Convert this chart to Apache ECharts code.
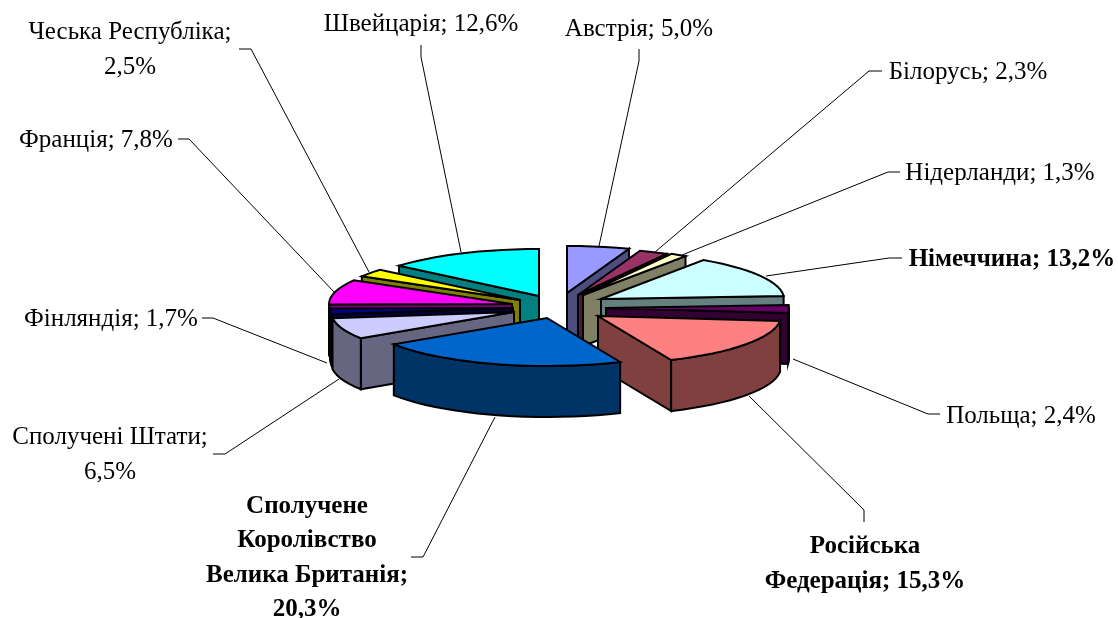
<!DOCTYPE html>
<html><head><meta charset="utf-8">
<style>html,body{margin:0;padding:0;background:#fff}#c{width:1118px;height:618px}</style>
<script src="https://cdn.jsdelivr.net/npm/echarts@6/dist/echarts.min.js"></script>
</head><body><div id="c"></div>
<script>
// ---- data ----
const countries = ['Австрія','Білорусь','Нідерланди','Німеччина','Польща','Російська Федерація','Сполучене Королівство Велика Британія','Сполучені Штати','Фінляндія','Франція','Чеська Республіка','Швейцарія'];
const shares = [5.0,2.3,1.3,13.2,2.4,15.3,20.3,6.5,1.7,7.8,2.5,12.6];
const labelTexts = ['Австрія; 5,0%','Білорусь; 2,3%','Нідерланди; 1,3%','Німеччина; 13,2%','Польща; 2,4%','Російська\nФедерація; 15,3%','Сполучене\nКоролівство\nВелика Британія;\n20,3%','Сполучені Штати;\n6,5%','Фінляндія; 1,7%','Франція; 7,8%','Чеська Республіка;\n2,5%','Швейцарія; 12,6%'];
const boldLabels = [false,false,false,true,false,true,true,false,false,false,false,false];
// ---- style & layout ----
const topColors = ['#9999FF','#993366','#FFFFCC','#CCFFFF','#660066','#FF8080','#0066CC','#CCCCFF','#000080','#FF00FF','#FFFF00','#00FFFF'];
const wallColors = ['#4D4D80','#4D1A33','#808066','#668080','#330033','#804040','#003366','#666680','#000040','#800080','#808000','#008080'];
const centerX = 553, centerY = 305, radiusX = 183, radiusYBack = 47, radiusYFront = 48, depth = 51;
const explodeX = [14,25,30,48,53,45,-6,-39,-40,-41,-33,-14];
const explodeY = [-12,-10,-10,-6,3,11,13,7,3,-1,-5,-9];
const labelX = [639,968,1000,1012,1021,865,307,110,111,96,130,421];
const labelY = [29,72,173,260,416,564,558,455,319,140,50,24];
const leaders = [
 [[639,49],[639,61],[599,246]],
 [[882,71],[869,71],[655,252]],
 [[900,172],[888,172],[682,255]],
 [[902,258],[889,258],[766,276]],
 [[940,414],[928,414],[793,359]],
 [[864,522],[864,510],[749,396]],
 [[411,557],[423,557],[495,417]],
 [[213,454],[225,454],[339,379]],
 [[202,318],[213,318],[327,363]],
 [[178,139],[189,139],[335,293]],
 [[239,49],[251,49],[369,272]],
 [[421,45],[421,57],[461,252]]
];
// ---- geometry derived from the values ----
const total = shares.reduce((a,b)=>a+b,0);
const starts = []; let acc = 0;
shares.forEach(v=>{starts.push(acc/total*360); acc+=v;});
const rad = d=>d*Math.PI/180;
const order = shares.map((v,i)=>{
  const mid = starts[i]+v/total*180; return {i,c:Math.cos(rad(mid))};
}).sort((a,b)=>b.c-a.c).map(o=>o.i);
const rank = []; order.forEach((idx,r)=>{rank[idx]=r;});

function renderSlice(params, api){
  const i = api.value(0);
  const a0 = starts[i], a1 = a0 + api.value(1)/total*360;
  const ax = centerX+explodeX[i], ay = centerY+explodeY[i];
  const pt = (a,dz)=>{
    const c = Math.cos(rad(a));
    return [ax+radiusX*Math.sin(rad(a)), ay-c*(c>0?radiusYBack:radiusYFront)+dz];
  };
  const arc = (from,to,dz)=>{
    const out=[]; const n=Math.max(2,Math.ceil((to-from)/4));
    for(let k=0;k<=n;k++) out.push(pt(from+(to-from)*k/n,dz));
    return out;
  };
  const base = 10*rank[i];
  const st = (fill)=>({fill,stroke:'#000',lineWidth:2,lineJoin:'miter'});
  const kids = [];
  if(Math.sin(rad(a0))<-1e-6) kids.push({type:'polygon',z2:base,shape:{points:[[ax,ay],pt(a0,0),pt(a0,depth),[ax,ay+depth]]},style:st(wallColors[i])});
  if(Math.sin(rad(a1))>1e-6) kids.push({type:'polygon',z2:base,shape:{points:[[ax,ay],pt(a1,0),pt(a1,depth),[ax,ay+depth]]},style:st(wallColors[i])});
  const f0=Math.max(a0,90), f1=Math.min(a1,270);
  if(f1>f0) kids.push({type:'polygon',z2:base+1,shape:{points:arc(f0,f1,0).concat(arc(f0,f1,depth).reverse())},style:st(wallColors[i])});
  kids.push({type:'polygon',z2:base+2,shape:{points:[[ax,ay]].concat(arc(a0,a1,0))},style:st(topColors[i])});
  return {type:'group',children:kids};
}
function renderLabel(params, api){
  const i = api.value(0);
  return {type:'group',children:[
    {type:'polyline',z2:500,shape:{points:leaders[i]},style:{fill:null,stroke:'#000',lineWidth:1}},
    {type:'text',z2:501,x:labelX[i],y:labelY[i],style:{
      text:labelTexts[i],fill:'#000',align:'center',verticalAlign:'middle',lineHeight:34.5,
      font:(boldLabels[i]?'bold ':'')+'25px "Liberation Serif"'}}
  ]};
}
const rows = shares.map((v,i)=>[i,v,countries[i]]);
const chart = echarts.init(document.getElementById('c'),null,{renderer:'canvas'});
chart.setOption({
  animation:false,backgroundColor:'#fff',
  xAxis:{show:false,min:0,max:1},yAxis:{show:false,min:0,max:1},
  grid:{left:0,right:0,top:0,bottom:0},
  series:[
    {type:'custom',name:'slices',silent:true,coordinateSystem:'none',renderItem:renderSlice,data:rows,encode:{value:[1]},clip:false},
    {type:'custom',name:'labels',silent:true,coordinateSystem:'none',renderItem:renderLabel,data:rows,encode:{value:[1]},clip:false,z:5}
  ]
});
</script></body></html>
